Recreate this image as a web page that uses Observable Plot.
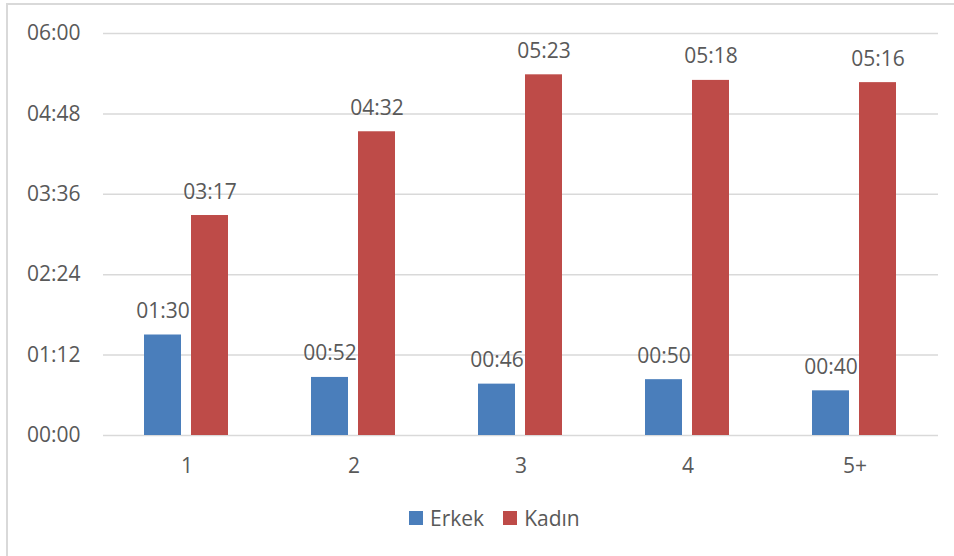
<!DOCTYPE html>
<html>
<head>
<meta charset="utf-8">
<script src="https://cdn.jsdelivr.net/npm/d3@7"></script>
<script src="https://cdn.jsdelivr.net/npm/@observablehq/plot@0.6"></script>
<style>
  html, body { margin: 0; padding: 0; background: #fff; }
  body { width: 954px; height: 556px; position: relative; overflow: hidden; font-family: "Open Sans", sans-serif; }
  #frame { position: absolute; left: 6px; top: 3px; width: 960px; height: 600px; border-left: 2px solid #d9d9d9; border-top: 2px solid #d9d9d9; }
  #chart { position: absolute; left: 0; top: 0; }
  #legend { position: absolute; left: 409px; top: 504px; display: flex; align-items: center; font-size: 21px; color: #595959; }
  .item { display: flex; align-items: center; margin-right: 19px; }
  .sw { width: 14px; height: 14px; margin-right: 7px; }
</style>
</head>
<body>
<div id="frame"></div>
<div id="chart"></div>
<div id="legend"></div>
<script>
const categories = ["1", "2", "3", "4", "5+"];
const series = ["Erkek", "Kadın"];
const erkek = [90, 52, 46, 50, 40];      // minutes
const kadin = [197, 272, 323, 318, 316]; // minutes
const yTicks = [0, 72, 144, 216, 288, 360];
const colors = ["#4a7ebb", "#be4b48"];

const fmt = m => String(Math.floor(m / 60)).padStart(2, "0") + ":" + String(m % 60).padStart(2, "0");

const data = [];
categories.forEach((c, i) => {
  data.push({cat: c, series: series[0], value: erkek[i]});
  data.push({cat: c, series: series[1], value: kadin[i]});
});

const plot = Plot.plot({
  width: 954,
  height: 490,
  marginLeft: 102,
  marginRight: 16,
  marginTop: 33,
  marginBottom: 55,
  style: {fontFamily: "Open Sans, sans-serif", fontSize: "21px", color: "#595959", background: "transparent"},
  fx: {domain: categories, padding: 0, label: null, axis: "bottom", tickSize: 0, tickPadding: 23},
  x: {domain: series, paddingInner: 0.21, paddingOuter: 0.86, axis: null},
  y: {domain: [0, 360], ticks: yTicks, tickFormat: fmt, label: null, tickSize: 0, tickPadding: 23},
  color: {domain: series, range: colors},
  marks: [
    Plot.ruleY(yTicks, {stroke: "#d9d9d9", strokeWidth: 1.5}),
    Plot.barY(data, {fx: "cat", x: "series", y: "value", fill: "series"}),
    Plot.text(data, {fx: "cat", x: "series", y: "value", text: d => fmt(d.value), lineAnchor: "bottom", dy: -17, fill: "#595959", fontSize: 21})
  ]
});
document.getElementById("chart").appendChild(plot);

const legend = document.getElementById("legend");
series.forEach((s, i) => {
  const it = document.createElement("div");
  it.className = "item";
  const sw = document.createElement("div");
  sw.className = "sw";
  sw.style.background = colors[i];
  const t = document.createElement("span");
  t.textContent = s;
  it.appendChild(sw); it.appendChild(t);
  legend.appendChild(it);
});
</script>
</body>
</html>
